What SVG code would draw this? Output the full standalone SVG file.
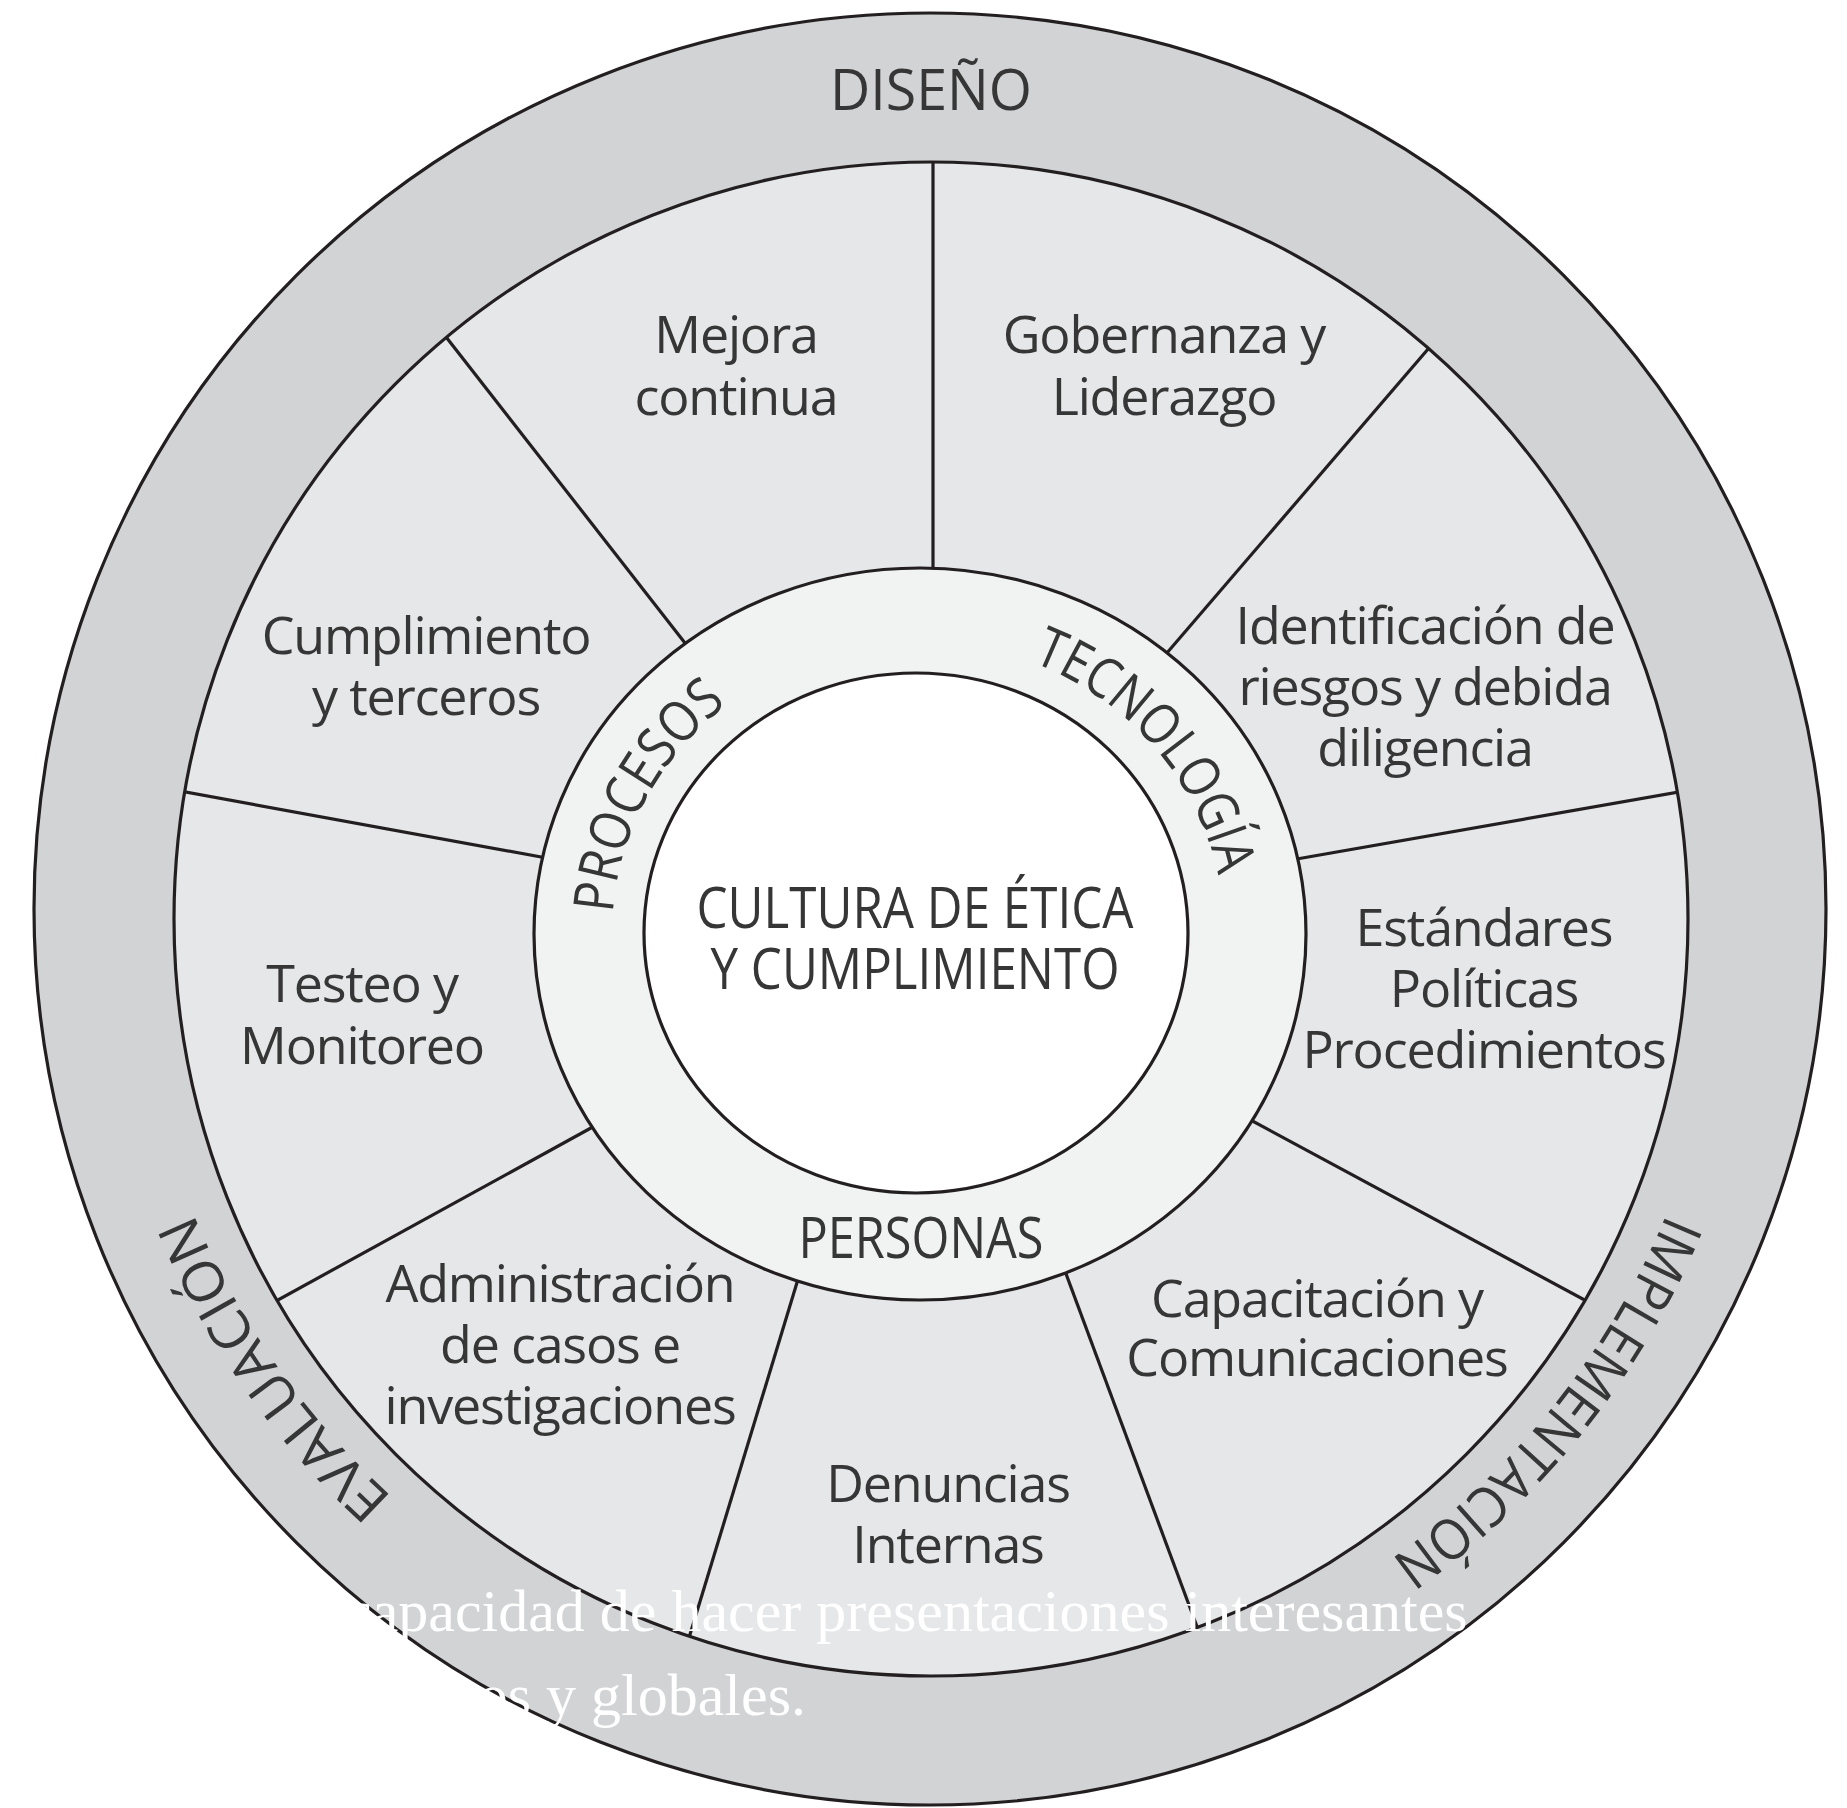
<svg xmlns="http://www.w3.org/2000/svg" width="1847" height="1808" viewBox="0 0 1847 1808">
  <style>
    .ln { stroke: #231f20; stroke-width: 3.2; fill: none; }
    .seg { font-family: "Open Sans", "Liberation Sans", sans-serif; font-size: 52px; letter-spacing: -1.2px; fill: #363636; text-anchor: middle; }
    .cap { font-family: "Open Sans", "Liberation Sans", sans-serif; font-size: 56px; fill: #363636; text-anchor: middle; }
    .over { font-family: "Liberation Serif", "Times New Roman", serif; font-size: 60px; fill: #ffffff; }
  </style>
  <defs>
    <clipPath id="segClip"><circle cx="931" cy="919" r="757"/></clipPath>
    <path id="pEval" d="M 999.5 1702.9 A 797 797 0 0 1 207.7 572.2"/>
    <path id="pImpl" d="M 1672.1 618.2 A 797 797 0 0 1 810.8 1697.0"/>
    <path id="pProc" d="M 661.4 1092.0 A 306 292 0 0 1 902.0 641.4"/>
    <path id="pTec" d="M 870.1 644.6 A 306 292 0 0 1 1203.7 1037.6"/>
  </defs>
  <rect width="1847" height="1808" fill="#ffffff"/>

  <!-- outer ring -->
  <g id="outer-ring">
    <circle cx="930" cy="909" r="896" class="ln" style="fill:#d2d3d5"/>
    <circle cx="931" cy="919" r="757" style="fill:#e6e7e8;stroke:none"/>
  </g>

  <!-- connectors / dividers -->
  <g id="connectors" clip-path="url(#segClip)">
    <line class="ln" x1="933" y1="590" x2="933" y2="140"/>
    <line class="ln" x1="692" y1="652" x2="425" y2="310"/>
    <line class="ln" x1="552" y1="859" x2="147" y2="785"/>
    <line class="ln" x1="600" y1="1123" x2="247" y2="1317"/>
    <line class="ln" x1="799" y1="1276" x2="688" y2="1641"/>
    <line class="ln" x1="1062" y1="1263" x2="1202" y2="1640"/>
    <line class="ln" x1="1245" y1="1117" x2="1605" y2="1311"/>
    <line class="ln" x1="1291" y1="860" x2="1719" y2="785"/>
    <line class="ln" x1="1160" y1="661" x2="1453" y2="320"/>
  </g>
  <circle cx="931" cy="919" r="757" class="ln"/>

  <!-- inner ring -->
  <g id="inner-ring">
    <ellipse cx="920" cy="934" rx="386" ry="366" class="ln" style="fill:#f1f2f2"/>
  </g>
  <g id="center">
    <ellipse cx="916" cy="933" rx="272" ry="260" class="ln" style="fill:#ffffff"/>
    <text class="cap" x="915" y="928" textLength="437" lengthAdjust="spacingAndGlyphs">CULTURA DE ÉTICA</text>
    <text class="cap" x="915" y="989" textLength="409" lengthAdjust="spacingAndGlyphs">Y CUMPLIMIENTO</text>
  </g>

  <!-- ring labels -->
  <g id="label-diseno">
    <text class="cap" x="931" y="110" textLength="202" lengthAdjust="spacingAndGlyphs">DISEÑO</text>
  </g>
  <g id="label-evaluacion">
    <text class="cap"><textPath href="#pEval" startOffset="50%" textLength="350" lengthAdjust="spacingAndGlyphs">EVALUACIÓN</textPath></text>
  </g>
  <g id="label-implementacion">
    <text class="cap"><textPath href="#pImpl" startOffset="50%" textLength="448" lengthAdjust="spacingAndGlyphs">IMPLEMENTACIÓN</textPath></text>
  </g>
  <g id="label-procesos">
    <text class="cap"><textPath href="#pProc" startOffset="50%" textLength="245" lengthAdjust="spacingAndGlyphs">PROCESOS</textPath></text>
  </g>
  <g id="label-tecnologia">
    <text class="cap"><textPath href="#pTec" startOffset="50%" textLength="295" lengthAdjust="spacingAndGlyphs">TECNOLOGÍA</textPath></text>
  </g>
  <g id="label-personas">
    <text class="cap" x="921" y="1258" textLength="245" lengthAdjust="spacingAndGlyphs">PERSONAS</text>
  </g>

  <!-- segments -->
  <g id="seg-mejora">
    <text class="seg" x="736" y="353">Mejora</text>
    <text class="seg" x="736" y="415">continua</text>
  </g>
  <g id="seg-gobernanza">
    <text class="seg" x="1164" y="353">Gobernanza y</text>
    <text class="seg" x="1164" y="415">Liderazgo</text>
  </g>
  <g id="seg-identificacion">
    <text class="seg" x="1425" y="644">Identificación de</text>
    <text class="seg" x="1425" y="705">riesgos y debida</text>
    <text class="seg" x="1425" y="766">diligencia</text>
  </g>
  <g id="seg-estandares">
    <text class="seg" x="1484" y="946">Estándares</text>
    <text class="seg" x="1484" y="1007">Políticas</text>
    <text class="seg" x="1484" y="1068">Procedimientos</text>
  </g>
  <g id="seg-capacitacion">
    <text class="seg" x="1317" y="1317">Capacitación y</text>
    <text class="seg" x="1317" y="1376">Comunicaciones</text>
  </g>
  <g id="seg-denuncias">
    <text class="seg" x="948" y="1502">Denuncias</text>
    <text class="seg" x="948" y="1563">Internas</text>
  </g>
  <g id="seg-administracion">
    <text class="seg" x="560" y="1302">Administración</text>
    <text class="seg" x="560" y="1363">de casos e</text>
    <text class="seg" x="560" y="1424">investigaciones</text>
  </g>
  <g id="seg-testeo">
    <text class="seg" x="362" y="1002">Testeo y</text>
    <text class="seg" x="362" y="1064">Monitoreo</text>
  </g>
  <g id="seg-cumplimiento">
    <text class="seg" x="426" y="654">Cumplimiento</text>
    <text class="seg" x="426" y="715">y terceros</text>
  </g>

  <!-- overlay text -->
  <g id="overlay-text">
    <text class="over" x="345" y="1631">capacidad de hacer presentaciones interesantes</text>
    <text class="over" x="806" y="1715" text-anchor="end">os y globales.</text>
  </g>
</svg>
